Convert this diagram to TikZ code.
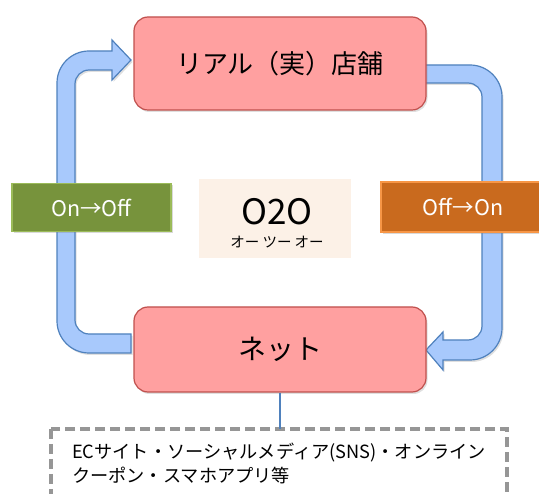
\documentclass[tikz,border=0pt]{standalone}
\usepackage{fontspec}
\setmainfont{Noto Sans CJK JP}
\usetikzlibrary{shadows}
\definecolor{boxpink}{RGB}{255,160,160}
\definecolor{boxred}{RGB}{192,80,77}
\definecolor{arrfill}{RGB}{168,201,252}
\definecolor{arrline}{RGB}{79,129,189}
\definecolor{grfill}{RGB}{119,147,60}
\definecolor{grline}{RGB}{155,187,89}
\definecolor{orfill}{RGB}{201,106,30}
\definecolor{orline}{RGB}{247,150,70}
\definecolor{ofill}{RGB}{252,241,231}
\definecolor{dgray}{RGB}{150,150,150}
\tikzset{
  mainbox/.style={draw=boxred, line width=1.2pt, fill=boxpink, rounded corners=14pt,
    minimum width=292pt, text=black,
    drop shadow={opacity=0.25, shadow xshift=1.5pt, shadow yshift=-2pt}},
  flowarrow/.style={draw=arrline, line width=1.2pt, fill=arrfill,
    drop shadow={opacity=0.25, shadow xshift=1.5pt, shadow yshift=-2pt}},
  tagbox/.style={line width=1.2pt, minimum height=48pt, text=white,
    font=\fontsize{21.5pt}{24pt}\selectfont,
    drop shadow={opacity=0.3, shadow xshift=1.5pt, shadow yshift=-2pt}},
}
\begin{document}
\begin{tikzpicture}[x=1pt,y=-1pt]
\useasboundingbox (0,0) rectangle (539,494);
% left arrow (net -> real store)
\path[flowarrow]
  (131,334) [rounded corners=14pt] -- (75,334) -- (75,70) [sharp corners] -- (112,70)
  -- (112,80) -- (131,60) -- (112,40) -- (112,51) [rounded corners=32pt] -- (57,51)
  -- (57,353) [sharp corners] -- (131,353) -- cycle;
% right arrow (real store -> net)
\path[flowarrow]
  (420,65) [rounded corners=32pt] -- (502,65) -- (502,360) [sharp corners] -- (443,360)
  -- (443,370) -- (426,350) -- (443,332) -- (443,340) [rounded corners=14pt] -- (482,340)
  -- (482,83) [sharp corners] -- (420,83) -- cycle;
% main boxes
\node[mainbox, minimum height=93pt, font=\fontsize{26pt}{30pt}\selectfont]
  (real) at (280,63.5) {リアル（実）店舗};
\node[mainbox, minimum height=85pt, font=\fontsize{28pt}{32pt}\selectfont]
  (net) at (280,349.5) {ネット};
% tags
\node[tagbox, draw=grline, fill=grfill, minimum width=159pt] (onoff) at (91.5,207.5) {On→Off};
\node[tagbox, draw=orline, fill=orfill, minimum width=166pt, minimum height=50pt] (offon) at (464,207) {\hspace*{-2pt}Off→On};
% O2O box
\node[fill=ofill, minimum width=152pt, minimum height=79pt] (o2obox) at (275,218.5) {};
\node[font=\fontsize{35pt}{38pt}\selectfont, inner sep=0pt] (o2o) at (277,212) {O2O};
\node[font=\fontsize{14.5pt}{16pt}\selectfont, inner sep=0pt] (o2okana) at (277,242) {オー ツー オー};
% note box
\coordinate (notetop) at (280,429);
\draw[draw=dgray, line width=3.5pt, dash pattern=on 10pt off 5pt] (51,429) rectangle (507,510);
\node[anchor=north west, align=left, inner sep=0pt,
  font=\fontsize{18.2pt}{24pt}\selectfont] (note) at (72,443)
  {ECサイト・ソーシャルメディア(SNS)・オンライン\\クーポン・スマホアプリ等};
\draw[arrline, line width=1.2pt] (net.south) -- (notetop);
\end{tikzpicture}
\end{document}
